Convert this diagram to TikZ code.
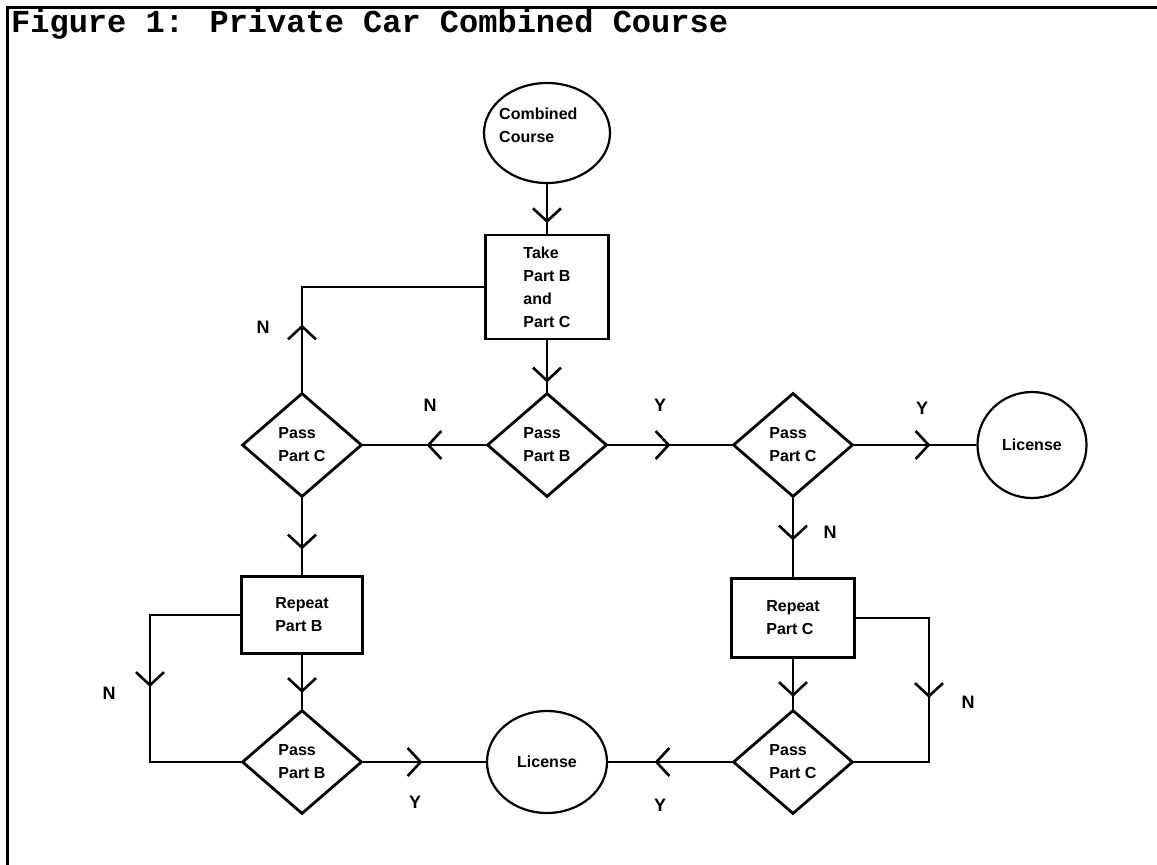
\documentclass[tikz,border=0pt]{standalone}
\usepackage{fontspec}
\setmainfont{Liberation Sans}
\newfontfamily\courierfont{Liberation Mono}
\usepackage{tikz}
\usetikzlibrary{shapes.geometric, arrows.meta, decorations.markings}
\newcommand\shapetext{\fontsize{16}{23}\selectfont\bfseries}
\newcommand\ynfont{\fontsize{18}{18}\selectfont\bfseries}

\tikzset{
  flow/.style={line width=2.6pt},
  tipat/.style={postaction={decorate}, decoration={markings,
      mark=at position #1 with {\arrow{Straight Barb[length=13pt, width=28pt]}}}},
  stepbox/.style={draw, line width=2.8pt, inner sep=0pt, align=left, font=\shapetext},
  choice/.style={draw, diamond, line width=2.8pt, inner sep=0pt,
      minimum width=120pt, minimum height=104pt, align=left, font=\shapetext},
  term/.style={draw, ellipse, line width=2.2pt, inner sep=0pt, font=\shapetext},
  yn/.style={inner sep=0pt, font=\ynfont}
}

\begin{document}
\begin{tikzpicture}[x=1pt, y=-1pt]
    \useasboundingbox (0,0) rectangle (1157,865);
    % frame and heading
    \draw[line width=3pt] (1157,7) -- (7,7) -- (7,865);
    \node[anchor=base west, inner sep=0pt, font=\courierfont\bfseries\fontsize{32}{32}\selectfont]
      (title) at (11,32) {Figure 1: Private Car Combined Course};

    % shapes
    \node[term, minimum width=126pt, minimum height=100pt] (start) at (547,133) {};
    \node[anchor=north west, inner sep=0pt, align=left, font=\shapetext]
      (starttext) at (499,108) {Combined\\Course};
    \node[stepbox, minimum width=123pt, minimum height=104pt] (take) at (547,287)
      {Take\\Part B\\and\\Part C};
    \node[choice] (passb) at (547,445) {Pass\\Part B};
    \node[choice] (passcl) at (302,445) {Pass\\Part C};
    \node[choice] (passcr) at (793,445) {Pass\\Part C};
    \node[term, minimum width=109pt, minimum height=106pt] (licr) at (1032,445) {License};
    \node[stepbox, minimum width=121pt, minimum height=77pt] (repb) at (302,615) {Repeat\\Part B};
    \node[stepbox, minimum width=123pt, minimum height=79pt] (repc) at (793,618) {Repeat\\Part C};
    \node[choice] (passbb) at (302,762) {Pass\\Part B};
    \node[term, minimum width=120pt, minimum height=102pt] (licb) at (547,762) {License};
    \node[choice] (passcb) at (793,762) {Pass\\Part C};

    \coordinate (loopl) at (150,0);
    \coordinate (loopr) at (929,0);

    % connectors
    \draw[flow, tipat=39pt] (start) -- (take);
    \draw[flow, tipat=42pt] (take) -- (passb);
    \draw[flow, tipat=67pt] (passcl.north) |- (take.west);
    \draw[flow, tipat=59pt] (passb) -- (passcl);
    \draw[flow, tipat=62pt] (passb) -- (passcr);
    \draw[flow, tipat=76pt] (passcr) -- (licr);
    \draw[flow, tipat=51pt] (passcl) -- (repb);
    \draw[flow, tipat=38pt] (repb) -- (passbb);
    \draw[flow, tipat=162pt] (repb.west) -- (repb.west -| loopl) -- (passbb.west -| loopl) -- (passbb.west);
    \draw[flow, tipat=59pt] (passbb) -- (licb);
    \draw[flow, tipat=42pt] (passcr) -- (repc);
    \draw[flow, tipat=38pt] (repc) -- (passcb);
    \draw[flow, tipat=153pt] (repc.east) -- (repc.east -| loopr) -- (passcb.east -| loopr) -- (passcb.east);
    \draw[flow, tipat=77pt] (passcb) -- (licb);

    % Y / N labels
    \node[yn] (nleft) at (263,327) {N};
    \node[yn] (nmid) at (430,405) {N};
    \node[yn] (ymid) at (660,405) {Y};
    \node[yn] (yright) at (922,408) {Y};
    \node[yn] (nright) at (830,532) {N};
    \node[yn] (nloopl) at (109,693) {N};
    \node[yn] (nloopr) at (968,702) {N};
    \node[yn] (ybotl) at (415,802) {Y};
    \node[yn] (ybotr) at (660,805) {Y};
\end{tikzpicture}
\end{document}
